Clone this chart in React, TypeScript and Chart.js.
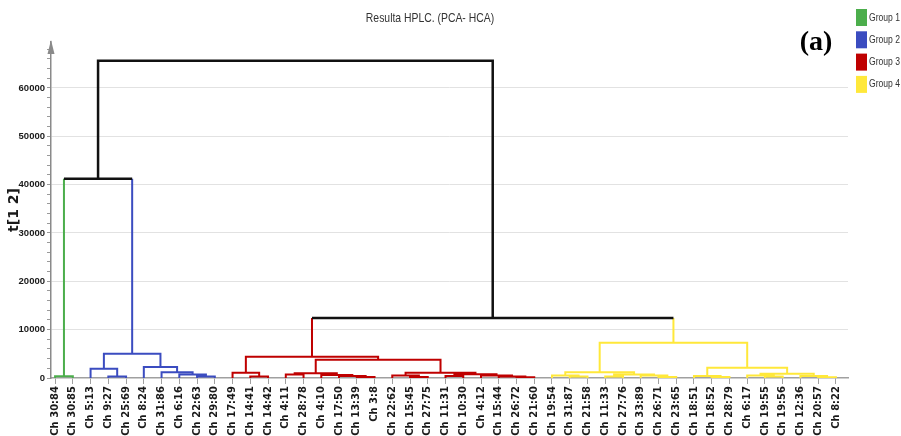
import React, { useEffect, useRef } from 'react';
import { Chart, registerables } from 'chart.js';

Chart.register(...registerables);

const chartTitle = 'Resulta HPLC. (PCA- HCA)';
const yAxisTitle = 't[1 2]';
const panelTag = '(a)';

const leafLabels = [
  'Ch 30:84', 'Ch 30:85',
  'Ch 5:13', 'Ch 9:27', 'Ch 25:69', 'Ch 8:24', 'Ch 31:86', 'Ch 6:16', 'Ch 22:63', 'Ch 29:80',
  'Ch 17:49', 'Ch 14:41', 'Ch 14:42', 'Ch 4:11', 'Ch 28:78', 'Ch 4:10', 'Ch 17:50', 'Ch 13:39', 'Ch 3:8',
  'Ch 22:62', 'Ch 15:45', 'Ch 27:75', 'Ch 11:31', 'Ch 10:30', 'Ch 4:12', 'Ch 15:44', 'Ch 26:72', 'Ch 21:60',
  'Ch 19:54', 'Ch 31:87', 'Ch 21:58', 'Ch 11:33', 'Ch 27:76', 'Ch 33:89', 'Ch 26:71', 'Ch 23:65', 'Ch 18:51',
  'Ch 18:52', 'Ch 28:79', 'Ch 6:17', 'Ch 19:55', 'Ch 19:56', 'Ch 12:36', 'Ch 20:57', 'Ch 8:22',
];

const leafGroups = [
  0, 0,
  1, 1, 1, 1, 1, 1, 1, 1,
  2, 2, 2, 2, 2, 2, 2, 2, 2, 2, 2, 2, 2, 2, 2, 2, 2, 2,
  3, 3, 3, 3, 3, 3, 3, 3, 3, 3, 3, 3, 3, 3, 3, 3, 3,
];

const groupNames = ['Group 1', 'Group 2', 'Group 3', 'Group 4'];
const groupColors = ['#4cae4c', '#3b4cc0', '#bf0000', '#ffe83a'];
const linkColor = '#111111';

// Linkage: leaves are 0..44, merge k creates node 45 + k
const mergeLeft = [
  0,
  3, 2, 8, 7, 6, 5, 47,
  11, 10, 13, 17, 16, 15, 55, 20, 19, 22, 26, 25, 24, 62, 61, 59, 54,
  29, 28, 31, 34, 33, 72, 71, 37, 36, 40, 39, 43, 42, 80, 78, 76,
  45, 69, 86,
];
const mergeRight = [
  1,
  4, 46, 9, 48, 49, 50, 51,
  12, 53, 14, 18, 56, 57, 58, 21, 60, 23, 27, 63, 64, 65, 66, 67, 68,
  30, 70, 32, 35, 73, 74, 75, 38, 77, 41, 79, 44, 81, 82, 83, 84,
  52, 85, 87,
];
const mergeHeight = [
  350,
  300, 1900, 300, 700, 1200, 2300, 5000,
  300, 1100, 700, 200, 400, 600, 1000, 200, 500, 400, 150, 300, 500, 800, 1100, 3800, 4400,
  300, 500, 300, 200, 500, 700, 1200, 200, 400, 300, 500, 150, 400, 900, 2100, 7300,
  41200, 12400, 65600,
];

const yTickStep = 2000;
const yLabelStep = 10000;
const yMax = 69500;

function buildDatasets() {
  const n = leafLabels.length;
  const nodeX: number[] = [];
  const nodeH: number[] = [];
  const nodeC: number[] = [];
  leafLabels.forEach((_, i) => {
    nodeX[i] = i;
    nodeH[i] = 0;
    nodeC[i] = leafGroups[i];
  });
  mergeLeft.forEach((a, k) => {
    const b = mergeRight[k];
    const id = n + k;
    nodeX[id] = (nodeX[a] + nodeX[b]) / 2;
    nodeH[id] = mergeHeight[k];
    nodeC[id] = nodeC[a] === nodeC[b] ? nodeC[a] : -1;
  });
  const paths: Record<string, { x: number; y: number | null }[]> = {};
  const push = (c: number, pts: { x: number; y: number }[]) => {
    const key = String(c);
    if (!paths[key]) paths[key] = [];
    paths[key].push(...pts, { x: pts[0].x, y: null });
  };
  mergeLeft.forEach((a, k) => {
    const b = mergeRight[k];
    const id = n + k;
    const h = nodeH[id];
    const pa0 = { x: nodeX[a], y: nodeH[a] };
    const pa1 = { x: nodeX[a], y: h };
    const pb1 = { x: nodeX[b], y: h };
    const pb0 = { x: nodeX[b], y: nodeH[b] };
    if (nodeC[a] === nodeC[id] && nodeC[b] === nodeC[id]) {
      push(nodeC[id], [pa0, pa1, pb1, pb0]);
    } else {
      push(nodeC[a], [pa0, pa1]);
      push(nodeC[b], [pb0, pb1]);
      push(nodeC[id], [pa1, pb1]);
    }
  });
  const order = ['-1', '0', '1', '2', '3'];
  return order
    .filter((k) => paths[k])
    .map((k) => {
      const c = Number(k);
      return {
        label: c < 0 ? 'link' : groupNames[c],
        data: paths[k],
        borderColor: c < 0 ? linkColor : groupColors[c],
        backgroundColor: c < 0 ? linkColor : groupColors[c],
        borderWidth: c < 0 ? 2.5 : 2,
        pointRadius: 0,
        fill: false,
        tension: 0,
        spanGaps: false,
        borderJoinStyle: 'miter' as const,
      };
    });
}

const sansFont = "'Liberation Sans', Arial, sans-serif";

function narrowText(ctx: CanvasRenderingContext2D, text: string, x: number, y: number, sx: number) {
  ctx.save();
  ctx.translate(x, y);
  ctx.scale(sx, 1);
  ctx.fillText(text, 0, 0);
  ctx.restore();
}

const decorPlugin = {
  id: 'decor',
  afterDraw(chart: any) {
    const ctx = chart.ctx as CanvasRenderingContext2D;
    const area = chart.chartArea;
    ctx.save();
    // y axis arrow
    ctx.fillStyle = '#8a8a8a';
    ctx.beginPath();
    ctx.moveTo(area.left, area.top - 2);
    ctx.lineTo(area.left - 3.5, area.top + 12);
    ctx.lineTo(area.left + 3.5, area.top + 12);
    ctx.closePath();
    ctx.fill();
    // title
    ctx.fillStyle = '#333333';
    ctx.font = `13px ${sansFont}`;
    ctx.textAlign = 'center';
    ctx.textBaseline = 'middle';
    narrowText(ctx, chartTitle, 430, 18, 0.8);
    // panel tag
    ctx.fillStyle = '#000000';
    ctx.font = "bold 28px 'Liberation Serif', 'DejaVu Serif', serif";
    ctx.textAlign = 'center';
    ctx.textBaseline = 'alphabetic';
    ctx.fillText(panelTag, 816, 50);
    // legend
    ctx.font = `11px ${sansFont}`;
    ctx.textAlign = 'left';
    ctx.textBaseline = 'middle';
    groupNames.forEach((name, i) => {
      const y0 = 9 + i * 22.3;
      ctx.fillStyle = groupColors[i];
      ctx.fillRect(856, y0, 11, 17);
      ctx.fillStyle = '#333333';
      narrowText(ctx, name, 869, y0 + 8.5, 0.78);
    });
    ctx.restore();
  },
};

export default function App() {
  const canvasRef = useRef<HTMLCanvasElement | null>(null);

  useEffect(() => {
    document.body.style.margin = '0';
    const canvas = canvasRef.current;
    if (!canvas) return;
    const chart = new Chart(canvas, {
      type: 'line',
      data: { datasets: buildDatasets() as any },
      options: {
        responsive: false,
        animation: false,
        events: [],
        layout: { padding: { top: 42, right: 53, left: 0, bottom: 0 } },
        plugins: {
          legend: { display: false },
          title: { display: false },
          tooltip: { enabled: false },
        },
        scales: {
          x: {
            type: 'linear',
            min: -0.23,
            max: 44.68,
            afterBuildTicks: (scale: any) => {
              scale.ticks = leafLabels.map((_, i) => ({ value: i }));
            },
            afterFit: (scale: any) => {
              scale.height = 58;
            },
            grid: {
              drawOnChartArea: false,
              drawTicks: true,
              tickLength: 6,
              tickColor: '#a0a0a0',
            },
            border: { display: true, color: '#a0a0a0', width: 1.5 },
            ticks: {
              autoSkip: false,
              minRotation: 90,
              maxRotation: 90,
              padding: 2,
              color: '#1a1a1a',
              font: { family: "'DejaVu Sans', sans-serif", weight: 'bold', size: 10 },
              callback: (v: any) => {
                const i = Math.round(Number(v));
                return leafLabels[i] ?? '';
              },
            },
          },
          y: {
            type: 'linear',
            min: 0,
            max: yMax,
            afterBuildTicks: (scale: any) => {
              const t: { value: number }[] = [];
              for (let v = 0; v < yMax; v += yTickStep) t.push({ value: v });
              scale.ticks = t;
            },
            afterFit: (scale: any) => {
              scale.width = 51;
            },
            grid: {
              color: (c: any) =>
                c.tick && c.tick.value > 0 && c.tick.value % yLabelStep === 0 ? '#e2e2e2' : 'rgba(0,0,0,0)',
              tickColor: '#9a9a9a',
              tickLength: 4,
              lineWidth: 1,
            },
            border: { display: true, color: '#8a8a8a', width: 1.5 },
            ticks: {
              autoSkip: false,
              padding: 2,
              color: '#1a1a1a',
              font: { family: sansFont, weight: 'bold', size: 9.5 },
              callback: (v: any) => (Number(v) % yLabelStep === 0 ? String(v) : ''),
            },
            title: {
              display: true,
              text: yAxisTitle,
              color: '#1a1a1a',
              padding: { top: 6, bottom: 0 },
              font: { family: "'DejaVu Sans', sans-serif", weight: 'bold', size: 14 },
            },
          },
        },
      },
      plugins: [decorPlugin],
    });
    return () => chart.destroy();
  }, []);

  return (
    <div style={{ width: 901, height: 436 }}>
      <canvas ref={canvasRef} width={901} height={436} style={{ display: 'block' }} />
    </div>
  );
}
